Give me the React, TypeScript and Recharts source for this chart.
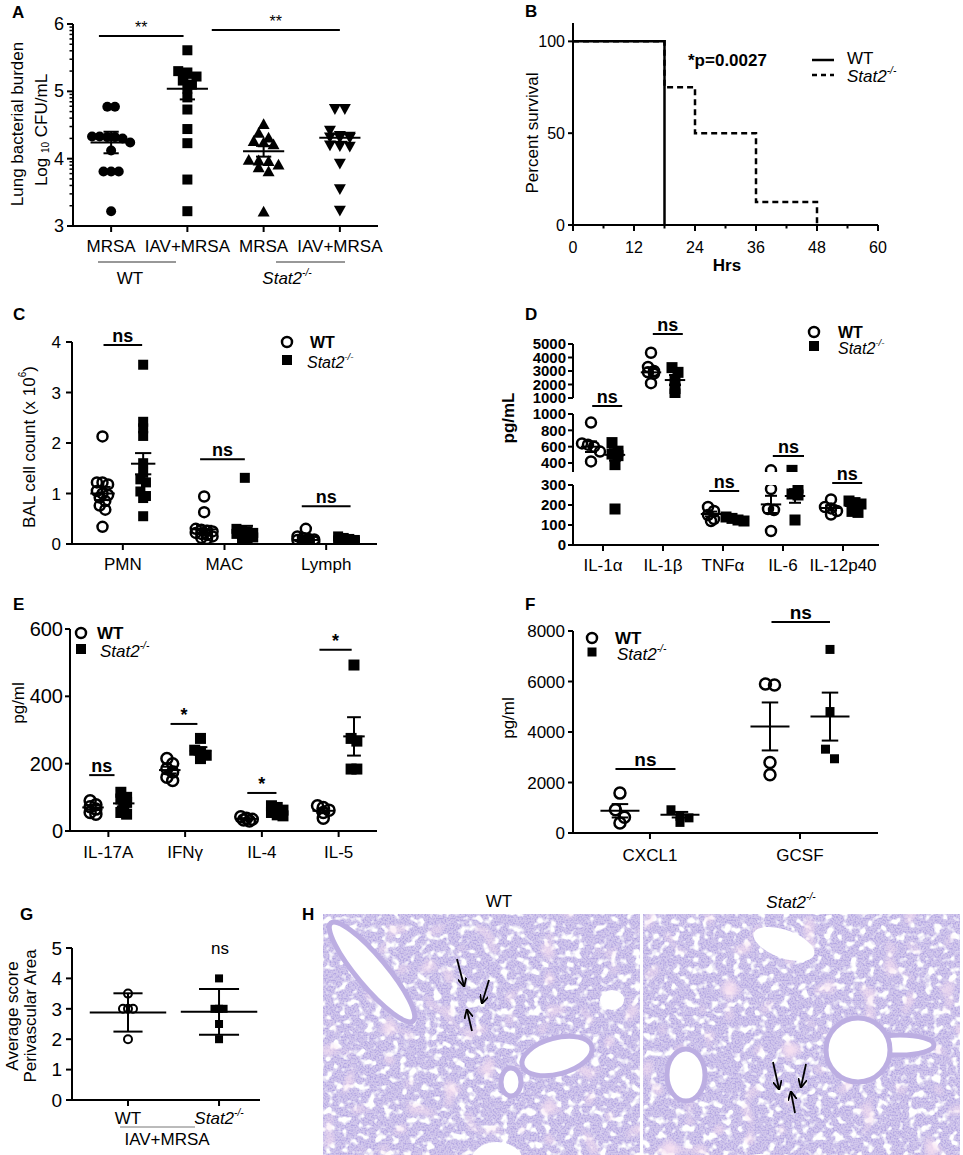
import React from "react";
import { ComposedChart, Scatter, Line, XAxis, YAxis, ReferenceLine, Legend } from "recharts";

const FONT = "Arial, 'Liberation Sans', Helvetica, sans-serif";

// ---- A: lung bacterial burden (log10 CFU/mL)
const aLabels = ["MRSA", "IAV+MRSA", "MRSA", "IAV+MRSA"];
const aWtMrsa = [4.77, 4.77, 4.33, 4.33, 4.32, 4.32, 4.3, 4.24, 4.12, 3.81, 3.81, 3.81, 3.22];
const aWtIav = [5.61, 5.3, 5.28, 5.22, 5.16, 5.1, 5.04, 4.91, 4.73, 4.44, 4.23, 3.69, 3.22];
const aKoMrsa = [4.52, 4.39, 4.32, 4.27, 4.25, 4.22, 3.99, 3.98, 3.97, 3.92, 3.88, 3.82, 3.22];
const aKoIav = [4.73, 4.73, 4.41, 4.33, 4.32, 4.31, 4.3, 4.3, 4.19, 4.18, 4.17, 3.92, 3.54, 3.22];
const aMean = [4.24, 5.04, 4.11, 4.31];
const aSem = [0.16, 0.16, 0.08, 0.06];

// ---- B: survival
const bWtHours = [0, 18];
const bWtSurvival = [100, 0];
const bKoHours = [0, 18, 24, 36, 48];
const bKoSurvival = [100, 75, 50, 12.5, 0];
const bHourTicks = [0, 6, 12, 18, 24, 30, 36, 42, 48, 54, 60];

// ---- C: BAL cell counts (x 10^6)
const cLabels = ["PMN", "MAC", "Lymph"];
const cWtPmn = [2.13, 1.22, 1.22, 1.18, 1.05, 1.0, 0.97, 0.92, 0.85, 0.76, 0.68, 0.34];
const cKoPmn = [3.55, 2.42, 2.29, 2.14, 1.6, 1.41, 1.28, 1.22, 1.04, 0.95, 0.91, 0.55];
const cWtMac = [0.94, 0.63, 0.3, 0.28, 0.26, 0.25, 0.22, 0.2, 0.18, 0.15, 0.12, 0.1];
const cKoMac = [1.31, 0.3, 0.27, 0.25, 0.22, 0.2, 0.18, 0.15, 0.13, 0.1, 0.08];
const cWtLymph = [0.3, 0.15, 0.12, 0.1, 0.09, 0.08, 0.07, 0.06, 0.05, 0.05, 0.04];
const cKoLymph = [0.15, 0.12, 0.1, 0.08, 0.07, 0.06, 0.05, 0.05, 0.04, 0.03];
const cWtMean = [1.0, 0.29, 0.08];
const cWtSem = [0.13, 0.07, 0.02];
const cKoMean = [1.59, 0.25, 0.07];
const cKoSem = [0.21, 0.11, 0.02];

// ---- D: cytokines (pg/mL), broken axis
const dLabels = ["IL-1α", "IL-1β", "TNFα", "IL-6", "IL-12p40"];
const dWtIl1a = [895, 640, 625, 600, 540, 420];
const dKoIl1a = [650, 545, 510, 490, 380, 180];
const dWtIl1b = [4350, 3300, 3000, 2900, 2800, 2100];
const dKoIl1b = [3250, 2900, 2350, 1700, 1300];
const dWtTnf = [190, 170, 150, 130, 120];
const dKoTnf = [140, 133, 125, 120];
const dWtIl6 = [310, 280, 180, 175, 70];
const dKoIl6 = [310, 285, 255, 250, 125];
const dWtIl12 = [228, 190, 183, 170, 152];
const dKoIl12 = [220, 212, 205, 168, 163];
const dWtMean = [600, 2900, 155, 203, 185];
const dWtSem = [65, 330, 12, 43, 13];
const dKoMean = [500, 2330, 130, 245, 195];
const dKoSem = [70, 370, 5, 34, 11];

// ---- E: cytokines (pg/ml)
const eLabels = ["IL-17A", "IFNγ", "IL-4", "IL-5"];
const eWtIl17 = [90, 78, 72, 65, 55, 50];
const eKoIl17 = [115, 100, 95, 85, 75, 55, 50];
const eWtIfng = [215, 200, 185, 175, 160, 150];
const eKoIfng = [275, 240, 235, 225, 215];
const eWtIl4 = [42, 38, 35, 33, 30];
const eKoIl4 = [75, 70, 62, 55, 48, 45];
const eWtIl5 = [75, 70, 62, 55, 38];
const eKoIl5 = [493, 275, 267, 184, 184];
const eWtMean = [70, 181, 36, 60];
const eWtSem = [7, 10, 2, 6];
const eKoMean = [82, 238, 59, 281];
const eKoSem = [9, 11, 5, 57];

// ---- F: chemokines (pg/ml)
const fLabels = ["CXCL1", "GCSF"];
const fWtCxcl1 = [1580, 920, 620, 400];
const fKoCxcl1 = [920, 660, 600, 420];
const fWtGcsf = [5900, 5860, 2790, 2310];
const fKoGcsf = [7270, 4810, 3320, 2940];
const fWtMean = [880, 4220];
const fWtSem = [265, 950];
const fKoMean = [725, 4610];
const fKoSem = [110, 950];

// ---- G: perivascular score
const gWt = [3.5, 3.0, 3.0, 3.0, 2.0];
const gKo = [4.0, 3.0, 3.0, 3.0, 2.5, 2.0];
const gMean = [2.88, 2.9];
const gSd = [0.63, 0.75];

// ---------- helpers
type Box = { x: number; y: number; w: number; h: number };
type Pt = { x: number; y: number };

function place(box: Box, plot: Box, yw: number, xh: number) {
  return {
    width: box.w,
    height: box.h,
    margin: {
      left: plot.x - box.x - yw,
      top: plot.y - box.y,
      right: box.x + box.w - plot.x - plot.w,
      bottom: box.y + box.h - plot.y - plot.h - xh,
    },
  };
}

const abs = (b: Box): React.CSSProperties => ({ position: "absolute", left: b.x, top: b.y, width: b.w, height: b.h });

// points of similar value are laid side by side (at most maxRow in a row), like a column scatter
function swarm(values: number[], center: number, step: number, tol: number, maxRow = 6): Pt[] {
  const sorted = [...values].sort((a, b) => b - a);
  const out: Pt[] = [];
  let i = 0;
  while (i < sorted.length) {
    let j = i;
    while (j + 1 < sorted.length && j - i + 1 < maxRow && sorted[i] - sorted[j + 1] < tol) j++;
    const n = j - i + 1;
    for (let k = 0; k < n; k++) out.push({ x: center + (k - (n - 1) / 2) * step, y: sorted[i + k] });
    i = j + 1;
  }
  return out;
}

const ring = (r: number, sw = 2.5) => (p: any) => (
  <circle cx={p.cx} cy={p.cy} r={r} fill="none" stroke="#000" strokeWidth={sw} />
);
const disc = (r: number) => (p: any) => <circle cx={p.cx} cy={p.cy} r={r} fill="#000" />;
const square = (s: number) => (p: any) => (
  <rect x={p.cx - s / 2} y={p.cy - s / 2} width={s} height={s} fill="#000" />
);
const triangle = (s: number, down: boolean) => (p: any) => {
  const h = s * 0.9;
  const d = down ? -1 : 1;
  return (
    <polygon
      points={`${p.cx - s / 2},${p.cy + (d * h) / 2} ${p.cx + s / 2},${p.cy + (d * h) / 2} ${p.cx},${p.cy - (d * h) / 2}`}
      fill="#000"
    />
  );
};

function seg(key: string, x1: number, y1: number, x2: number, y2: number, sw = 2, label?: any) {
  return (
    <ReferenceLine
      key={key}
      segment={[{ x: x1, y: y1 }, { x: x2, y: y2 }]}
      stroke="#000"
      strokeWidth={sw}
      ifOverflow="visible"
      label={label}
    />
  );
}

function meanBar(key: string, cx: number, mean: number, err: number, half: number, cap: number, sw = 2) {
  return [
    seg(key + "m", cx - half, mean, cx + half, mean, sw),
    seg(key + "v", cx, mean - err, cx, mean + err, sw),
    seg(key + "l", cx - cap, mean - err, cx + cap, mean - err, sw),
    seg(key + "u", cx - cap, mean + err, cx + cap, mean + err, sw),
  ];
}

function sigBar(key: string, x1: number, x2: number, y: number, text: string, fs = 18, bold = true) {
  return seg(key, x1, y, x2, y, 2, {
    value: text,
    position: "top",
    offset: 3,
    fill: "#000",
    fontSize: fs,
    fontWeight: bold ? "bold" : "normal",
    fontFamily: FONT,
  });
}

const axisLine = { stroke: "#000", strokeWidth: 2 };
const tickLine = { stroke: "#000", strokeWidth: 2 };
const tickFont = (fs: number, bold = false) => ({ fill: "#000", fontSize: fs, fontFamily: FONT, fontWeight: bold ? "bold" : "normal" });

function Ko({ fs }: { fs: number }) {
  return (
    <>
      <tspan fontStyle="italic">Stat2</tspan>
      <tspan fontStyle="italic" fontSize={fs * 0.6} dy={-fs * 0.38}>
        -/-
      </tspan>
    </>
  );
}

// legend: open circle = WT, filled square = Stat2-/-
const markerLegend = (dx: number, dy: number, fs: number, r: number, s: number, koDx: number) => () => (
  <svg width={120} height={dy + 20} style={{ display: "block", overflow: "visible" }}>
    <circle cx={8} cy={8} r={r} fill="none" stroke="#000" strokeWidth={2.5} />
    <text x={8 + dx} y={8} dominantBaseline="central" fontSize={fs} fontWeight="bold" fontFamily={FONT}>
      WT
    </text>
    <rect x={8 - s / 2} y={8 + dy - s / 2} width={s} height={s} fill="#000" />
    <text x={8 + koDx} y={8 + dy + 2} dominantBaseline="central" fontSize={fs} fontFamily={FONT}>
      <Ko fs={fs} />
    </text>
  </svg>
);

// ---------- A
const aMinor = [3, 4, 5].flatMap((d) => [2, 3, 4, 5, 6, 7, 8, 9].map((k) => d + Math.log10(k)));
const aTicks = [3, 4, 5, 6, ...aMinor].sort((a, b) => a - b);

function PanelA() {
  const box = { x: 40, y: 5, w: 350, h: 265 };
  const plot = { x: 73, y: 24, w: 305, h: 202 };
  const f = place(box, plot, 30, 34);
  const axisX = plot.x - box.x;
  const groups = [
    { pts: swarm(aWtMrsa, 1, 0.1, 0.1), shape: disc(5) },
    { pts: swarm(aWtIav, 2, 0.12, 0.1), shape: square(10) },
    { pts: swarm(aKoMrsa, 3, 0.13, 0.1), shape: triangle(12, false) },
    { pts: swarm(aKoIav, 4, 0.13, 0.1), shape: triangle(12, true) },
  ];
  const yTick = (p: any) => {
    const v = p.payload.value;
    const major = Math.abs(v - Math.round(v)) < 1e-6;
    return (
      <g>
        <line x1={axisX - (major ? 6 : 3.5)} x2={axisX} y1={p.y} y2={p.y} stroke="#000" strokeWidth={major ? 2 : 1.5} />
        {major && (
          <text x={axisX - 9} y={p.y} textAnchor="end" dominantBaseline="central" fontSize={18} fontFamily={FONT}>
            {Math.round(v)}
          </text>
        )}
      </g>
    );
  };
  return (
    <div style={abs(box)}>
      <ComposedChart width={f.width} height={f.height} margin={f.margin}>
        <XAxis
          type="number"
          dataKey="x"
          height={34}
          domain={[0.5, 4.5]}
          ticks={[1, 2, 3, 4]}
          interval={0}
          allowDataOverflow
          tickFormatter={(v: number) => aLabels[v - 1]}
          axisLine={axisLine}
          tickLine={tickLine}
          tickSize={6}
          tickMargin={8}
          tick={tickFont(17)}
        />
        <YAxis
          type="number"
          dataKey="y"
          width={30}
          domain={[3, 6]}
          ticks={aTicks}
          interval={0}
          allowDataOverflow
          axisLine={axisLine}
          tickLine={false}
          tick={yTick}
        />
        {groups.map((g, i) => (
          <Scatter key={i} data={g.pts} shape={g.shape} isAnimationActive={false} />
        ))}
        {aMean.map((m, i) => meanBar(`a${i}`, i + 1, m, aSem[i], 0.27, 0.1))}
        {sigBar("as1", 0.84, 1.95, 5.82, "**", 16, false)}
        {sigBar("as2", 2.32, 4.0, 5.91, "**", 16, false)}
      </ComposedChart>
    </div>
  );
}

// ---------- B
function PanelB() {
  const box = { x: 520, y: 5, w: 370, h: 265 };
  const plot = { x: 573, y: 23, w: 305, h: 202 };
  const f = place(box, plot, 45, 34);
  const bottom = plot.y + plot.h - box.y;
  const wt = bWtHours.map((t, i) => ({ t, s: bWtSurvival[i] }));
  const ko = bKoHours.map((t, i) => ({ t, s: bKoSurvival[i] }));
  const xTick = (p: any) => {
    const v = p.payload.value;
    const major = v % 12 === 0;
    return (
      <g>
        <line x1={p.x} x2={p.x} y1={bottom} y2={bottom + (major ? 6 : 3.5)} stroke="#000" strokeWidth={2} />
        {major && (
          <text x={p.x} y={bottom + 22} textAnchor="middle" dominantBaseline="central" fontSize={16} fontFamily={FONT}>
            {v}
          </text>
        )}
      </g>
    );
  };
  const legend = () => (
    <svg width={110} height={36} style={{ display: "block", overflow: "visible" }}>
      <line x1={0} x2={22} y1={8} y2={8} stroke="#000" strokeWidth={2.5} />
      <text x={35} y={6} dominantBaseline="central" fontSize={17} fontFamily={FONT}>WT</text>
      <line x1={0} x2={22} y1={23} y2={23} stroke="#000" strokeWidth={2.5} strokeDasharray="5 4" />
      <text x={35} y={24} dominantBaseline="central" fontSize={17} fontFamily={FONT}>
        <Ko fs={17} />
      </text>
    </svg>
  );
  return (
    <div style={abs(box)}>
      <ComposedChart width={f.width} height={f.height} margin={f.margin}>
        <XAxis
          type="number"
          dataKey="t"
          height={34}
          domain={[0, 60]}
          ticks={bHourTicks}
          interval={0}
          allowDataOverflow
          axisLine={axisLine}
          tickLine={false}
          tick={xTick}
        />
        <YAxis
          type="number"
          width={45}
          domain={[0, 110]}
          ticks={[0, 50, 100]}
          interval={0}
          allowDataOverflow
          axisLine={axisLine}
          tickLine={tickLine}
          tickSize={5}
          tickMargin={3}
          tick={tickFont(16)}
        />
        <Line data={ko} dataKey="s" type="stepAfter" stroke="#000" strokeWidth={2.5} strokeDasharray="6 4" dot={false} isAnimationActive={false} />
        <Line data={wt} dataKey="s" type="stepAfter" stroke="#000" strokeWidth={2.5} dot={false} isAnimationActive={false} />
        <Legend
          layout="vertical"
          align="center"
          verticalAlign="middle"
          content={legend}
          wrapperStyle={{ left: 812 - box.x, top: 52 - box.y, width: 120 }}
        />
      </ComposedChart>
    </div>
  );
}

// ---------- C
function PanelC() {
  const box = { x: 35, y: 300, w: 355, h: 285 };
  const plot = { x: 72, y: 342, w: 305, h: 202 };
  const f = place(box, plot, 32, 34);
  const wt = [cWtPmn, cWtMac, cWtLymph];
  const ko = [cKoPmn, cKoMac, cKoLymph];
  return (
    <div style={abs(box)}>
      <ComposedChart width={f.width} height={f.height} margin={f.margin}>
        <XAxis
          type="number"
          dataKey="x"
          height={34}
          domain={[0.5, 3.5]}
          ticks={[1, 2, 3]}
          interval={0}
          allowDataOverflow
          tickFormatter={(v: number) => cLabels[v - 1]}
          axisLine={axisLine}
          tickLine={tickLine}
          tickSize={6}
          tickMargin={8}
          tick={tickFont(17)}
        />
        <YAxis
          type="number"
          dataKey="y"
          width={32}
          domain={[0, 4]}
          ticks={[0, 1, 2, 3, 4]}
          interval={0}
          allowDataOverflow
          axisLine={axisLine}
          tickLine={tickLine}
          tickSize={6}
          tickMargin={5}
          tick={tickFont(17)}
        />
        {wt.map((v, i) => (
          <Scatter key={"w" + i} data={swarm(v, i + 0.8, 0.055, 0.1, 4)} shape={ring(5)} isAnimationActive={false} />
        ))}
        {ko.map((v, i) => (
          <Scatter key={"k" + i} data={swarm(v, i + 1.2, 0.055, 0.1, 4)} shape={square(10)} isAnimationActive={false} />
        ))}
        {cWtMean.map((m, i) => meanBar(`cw${i}`, i + 0.8, m, cWtSem[i], 0.12, 0.08))}
        {cKoMean.map((m, i) => meanBar(`ck${i}`, i + 1.2, m, cKoSem[i], 0.12, 0.08))}
        {sigBar("cs1", 0.81, 1.19, 3.94, "ns")}
        {sigBar("cs2", 1.76, 2.2, 1.68, "ns")}
        {sigBar("cs3", 2.76, 3.24, 0.75, "ns")}
        <Legend
          layout="vertical"
          align="center"
          verticalAlign="middle"
          content={markerLegend(23, 18, 16, 5, 10, 20)}
          wrapperStyle={{ left: 287 - 8 - box.x, top: 342 - 8 - box.y, width: 120 }}
        />
      </ComposedChart>
    </div>
  );
}

// ---------- D (three stacked segments of a broken y axis)
function PanelD() {
  const box = { x: 520, y: 300, w: 370, h: 285 };
  const segs = [
    { domain: [1000, 5000], ticks: [1000, 2000, 3000, 4000, 5000], y: 344, h: 54 },
    { domain: [290, 1000], ticks: [400, 600, 800, 1000], y: 414, h: 58 },
    { domain: [0, 300], ticks: [0, 100, 200, 300], y: 485, h: 60 },
  ];
  const wt = [dWtIl1a, dWtIl1b, dWtTnf, dWtIl6, dWtIl12];
  const ko = [dKoIl1a, dKoIl1b, dKoTnf, dKoIl6, dKoIl12];
  const tol = [120, 400, 30, 30, 30];
  const wtPts = wt.flatMap((v, i) => swarm(v, i + 0.8, 0.1, tol[i], 4));
  const koPts = ko.flatMap((v, i) => swarm(v, i + 1.2, 0.1, tol[i], 4));
  const inSeg = (y: number, d: number[]) => y >= d[0] && y <= d[1];
  const sigs = [
    { seg: 1, x1: 0.82, x2: 1.32, y: 1098 },
    { seg: 0, x1: 1.83, x2: 2.33, y: 5740 },
    { seg: 2, x1: 2.77, x2: 3.27, y: 270 },
    { seg: 2, x1: 3.83, x2: 4.35, y: 445 },
    { seg: 2, x1: 4.82, x2: 5.32, y: 310 },
  ];
  return (
    <div style={abs(box)}>
      {segs.map((s, si) => {
        const last = si === segs.length - 1;
        const plot = { x: 573, y: s.y, w: 306, h: s.h };
        const f = place(box, plot, 50, last ? 34 : 0);
        return (
          <div key={si} style={{ position: "absolute", left: 0, top: 0 }}>
            <ComposedChart width={f.width} height={f.height} margin={f.margin}>
              <XAxis
                type="number"
                dataKey="x"
                hide={!last}
                height={34}
                domain={[0.5, 5.6]}
                ticks={[1, 2, 3, 4, 5]}
                interval={0}
                allowDataOverflow
                tickFormatter={(v: number) => dLabels[v - 1]}
                axisLine={axisLine}
                tickLine={tickLine}
                tickSize={6}
                tickMargin={8}
                tick={tickFont(17)}
              />
              <YAxis
                type="number"
                dataKey="y"
                width={50}
                domain={s.domain}
                ticks={s.ticks}
                interval={0}
                allowDataOverflow
                axisLine={axisLine}
                tickLine={tickLine}
                tickSize={5}
                tickMargin={2}
                tick={tickFont(15, true)}
              />
              <Scatter data={wtPts.filter((p) => inSeg(p.y, s.domain))} shape={ring(5)} isAnimationActive={false} />
              <Scatter data={koPts.filter((p) => inSeg(p.y, s.domain))} shape={square(11)} isAnimationActive={false} />
              {dWtMean.map((m, i) => (inSeg(m, s.domain) ? meanBar(`dw${i}`, i + 0.8, m, dWtSem[i], 0.17, 0.1) : null))}
              {dKoMean.map((m, i) => (inSeg(m, s.domain) ? meanBar(`dk${i}`, i + 1.2, m, dKoSem[i], 0.17, 0.1) : null))}
              {sigs.map((g, i) => (g.seg === si ? sigBar(`ds${i}`, g.x1, g.x2, g.y, "ns") : null))}
              {si === 0 && (
                <Legend
                  layout="vertical"
                  align="center"
                  verticalAlign="middle"
                  content={markerLegend(24, 14, 16, 5, 10, 24)}
                  wrapperStyle={{ left: 814 - 8 - box.x, top: 332 - 8 - box.y, width: 120 }}
                />
              )}
            </ComposedChart>
          </div>
        );
      })}
    </div>
  );
}

// ---------- E
function PanelE() {
  const box = { x: 20, y: 595, w: 370, h: 285 };
  const plot = { x: 70, y: 629, w: 307, h: 202 };
  const f = place(box, plot, 45, 34);
  const wt = [eWtIl17, eWtIfng, eWtIl4, eWtIl5];
  const ko = [eKoIl17, eKoIfng, eKoIl4, eKoIl5];
  return (
    <div style={abs(box)}>
      <ComposedChart width={f.width} height={f.height} margin={f.margin}>
        <XAxis
          type="number"
          dataKey="x"
          height={34}
          domain={[0.5, 4.5]}
          ticks={[1, 2, 3, 4]}
          interval={0}
          allowDataOverflow
          tickFormatter={(v: number) => eLabels[v - 1]}
          axisLine={axisLine}
          tickLine={tickLine}
          tickSize={6}
          tickMargin={9}
          tick={tickFont(17)}
        />
        <YAxis
          type="number"
          dataKey="y"
          width={45}
          domain={[0, 600]}
          ticks={[0, 200, 400, 600]}
          interval={0}
          allowDataOverflow
          axisLine={axisLine}
          tickLine={tickLine}
          tickSize={5}
          tickMargin={2}
          tick={tickFont(20)}
        />
        {wt.map((v, i) => (
          <Scatter key={"w" + i} data={swarm(v, i + 0.8, 0.075, 16, 3)} shape={ring(5.5)} isAnimationActive={false} />
        ))}
        {ko.map((v, i) => (
          <Scatter key={"k" + i} data={swarm(v, i + 1.2, 0.075, 16, 3)} shape={square(11)} isAnimationActive={false} />
        ))}
        {eWtMean.map((m, i) => meanBar(`ew${i}`, i + 0.8, m, eWtSem[i], 0.14, 0.09))}
        {eKoMean.map((m, i) => meanBar(`ek${i}`, i + 1.2, m, eKoSem[i], 0.14, 0.09))}
        {sigBar("es1", 0.75, 1.08, 166, "ns")}
        {sigBar("es2", 1.81, 2.16, 318, "*")}
        {sigBar("es3", 2.81, 3.19, 113, "*")}
        {sigBar("es4", 3.75, 4.17, 538, "*")}
        <Legend
          layout="vertical"
          align="center"
          verticalAlign="middle"
          content={markerLegend(16, 16, 17, 5, 10, 19)}
          wrapperStyle={{ left: 81 - 8 - box.x, top: 633 - 8 - box.y, width: 120 }}
        />
      </ComposedChart>
    </div>
  );
}

// ---------- F
function PanelF() {
  const box = { x: 515, y: 595, w: 375, h: 285 };
  const plot = { x: 573, y: 631, w: 305, h: 202 };
  const f = place(box, plot, 53, 34);
  const wt = [fWtCxcl1, fWtGcsf];
  const ko = [fKoCxcl1, fKoGcsf];
  return (
    <div style={abs(box)}>
      <ComposedChart width={f.width} height={f.height} margin={f.margin}>
        <XAxis
          type="number"
          dataKey="x"
          height={34}
          domain={[0.487, 2.52]}
          ticks={[1, 2]}
          interval={0}
          allowDataOverflow
          tickFormatter={(v: number) => fLabels[v - 1]}
          axisLine={axisLine}
          tickLine={tickLine}
          tickSize={6}
          tickMargin={10}
          tick={tickFont(17)}
        />
        <YAxis
          type="number"
          dataKey="y"
          width={53}
          domain={[0, 8000]}
          ticks={[0, 2000, 4000, 6000, 8000]}
          interval={0}
          allowDataOverflow
          axisLine={axisLine}
          tickLine={tickLine}
          tickSize={5}
          tickMargin={3}
          tick={tickFont(17)}
        />
        {wt.map((v, i) => (
          <Scatter key={"w" + i} data={swarm(v, i + 0.8, 0.06, 400)} shape={ring(5.5)} isAnimationActive={false} />
        ))}
        {ko.map((v, i) => (
          <Scatter key={"k" + i} data={swarm(v, i + 1.2, 0.06, 400)} shape={square(9)} isAnimationActive={false} />
        ))}
        {fWtMean.map((m, i) => meanBar(`fw${i}`, i + 0.8, m, fWtSem[i], 0.13, 0.055))}
        {fKoMean.map((m, i) => meanBar(`fk${i}`, i + 1.2, m, fKoSem[i], 0.13, 0.055))}
        {sigBar("fs1", 0.77, 1.17, 2535, "ns", 19)}
        {sigBar("fs2", 1.81, 2.2, 8356, "ns", 19)}
        <Legend
          layout="vertical"
          align="center"
          verticalAlign="middle"
          content={markerLegend(23, 14, 17, 5, 9, 25)}
          wrapperStyle={{ left: 592 - 8 - box.x, top: 638 - 8 - box.y, width: 120 }}
        />
      </ComposedChart>
    </div>
  );
}

// ---------- G
function PanelG() {
  const box = { x: 35, y: 925, w: 235, h: 215 };
  const plot = { x: 72, y: 948, w: 188, h: 152 };
  const f = place(box, plot, 32, 34);
  const bottom = plot.y + plot.h - box.y;
  const xTick = (p: any) => (
    <text x={p.x} y={bottom + 18} textAnchor="middle" dominantBaseline="central" fontSize={17} fontFamily={FONT}>
      {p.payload.value === 1 ? "WT" : <Ko fs={17} />}
    </text>
  );
  return (
    <div style={abs(box)}>
      <ComposedChart width={f.width} height={f.height} margin={f.margin}>
        <XAxis
          type="number"
          dataKey="x"
          height={34}
          domain={[0.385, 2.45]}
          ticks={[1, 2]}
          interval={0}
          allowDataOverflow
          axisLine={axisLine}
          tickLine={tickLine}
          tickSize={6}
          tick={xTick}
        />
        <YAxis
          type="number"
          dataKey="y"
          width={32}
          domain={[0, 5]}
          ticks={[0, 1, 2, 3, 4, 5]}
          interval={0}
          allowDataOverflow
          axisLine={axisLine}
          tickLine={tickLine}
          tickSize={6}
          tickMargin={4}
          tick={tickFont(19)}
        />
        <Scatter data={swarm(gWt, 1, 0.055, 0.2)} shape={ring(4, 2)} isAnimationActive={false} />
        <Scatter data={swarm(gKo, 2, 0.05, 0.2)} shape={square(8)} isAnimationActive={false} />
        {meanBar("gw", 1, gMean[0], gSd[0], 0.42, 0.16)}
        {meanBar("gk", 2, gMean[1], gSd[1], 0.42, 0.22)}
      </ComposedChart>
    </div>
  );
}

// ---------- titles, panel letters and the histology panel H
function Tissue({ id, x, y, w, h, children }: { id: string; x: number; y: number; w: number; h: number; children?: React.ReactNode }) {
  return (
    <g>
      <clipPath id={id}>
        <rect x={x} y={y} width={w} height={h} />
      </clipPath>
      <g clipPath={`url(#${id})`}>
        <rect x={x} y={y} width={w} height={h} fill="#d2c8ec" />
        <rect x={x} y={y} width={w} height={h} filter="url(#cells)" />
        <rect x={x} y={y} width={w} height={h} filter="url(#alv)" />
        <rect x={x} y={y} width={w} height={h} filter="url(#pink)" />
        {children}
      </g>
    </g>
  );
}

const wall = { fill: "#fff", stroke: "#bcaee2", strokeWidth: 5 };

function Overlay() {
  const t = { fontFamily: FONT, fill: "#000" } as const;
  const rot = (x: number, y: number) => `rotate(-90 ${x} ${y})`;
  const letter = (s: string, x: number, y: number) => (
    <text key={s} x={x} y={y} fontSize={17} fontWeight="bold" {...t}>
      {s}
    </text>
  );
  return (
    <svg width={963} height={1155} style={{ position: "absolute", left: 0, top: 0 }}>
      <defs>
        <filter id="cells" x="0" y="0" width="100%" height="100%">
          <feTurbulence type="fractalNoise" baseFrequency="0.6" numOctaves={1} seed={7} />
          <feColorMatrix type="matrix" values="0 0 0 0 0.45  0 0 0 0 0.38  0 0 0 0 0.76  -3.4 0 0 0 1.95" />
        </filter>
        <filter id="alv" x="0" y="0" width="100%" height="100%">
          <feTurbulence type="fractalNoise" baseFrequency="0.12" numOctaves={2} seed={11} />
          <feColorMatrix type="matrix" values="0 0 0 0 1  0 0 0 0 1  0 0 0 0 1  6 0 0 0 -3.2" />
        </filter>
        <filter id="pink" x="0" y="0" width="100%" height="100%">
          <feTurbulence type="fractalNoise" baseFrequency="0.05" numOctaves={1} seed={3} />
          <feColorMatrix type="matrix" values="0 0 0 0 0.93  0 0 0 0 0.75  0 0 0 0 0.88  4 0 0 0 -2.4" />
        </filter>
        <marker id="arr" viewBox="0 0 10 10" refX="9" refY="5" markerWidth="5" markerHeight="5" orient="auto">
          <path d="M0,0 L10,5 L0,10" fill="none" stroke="#000" strokeWidth={2} />
        </marker>
      </defs>

      {letter("A", 12, 18)}
      {letter("B", 525, 17)}
      {letter("C", 13, 320)}
      {letter("D", 525, 320)}
      {letter("E", 13, 610)}
      {letter("F", 525, 610)}
      {letter("G", 20, 920)}
      {letter("H", 302, 920)}

      {/* A */}
      <text x={17} y={124} transform={rot(17, 124)} textAnchor="middle" dominantBaseline="central" fontSize={17} {...t}>
        Lung bacterial burden
      </text>
      <text x={41} y={130} transform={rot(41, 130)} textAnchor="middle" dominantBaseline="central" fontSize={17} {...t}>
        Log <tspan fontSize={10} dy={4}>10</tspan>
        <tspan dy={-4}> CFU/mL</tspan>
      </text>
      <line x1={98} x2={176} y1={262} y2={262} stroke="#333" strokeWidth={1.2} />
      <line x1={276} x2={345} y1={262} y2={262} stroke="#333" strokeWidth={1.2} />
      <text x={130} y={278} textAnchor="middle" dominantBaseline="central" fontSize={17} {...t}>
        WT
      </text>
      <text x={287} y={278} textAnchor="middle" dominantBaseline="central" fontSize={17} {...t}>
        <Ko fs={17} />
      </text>

      {/* B */}
      <text x={532} y={133} transform={rot(532, 133)} textAnchor="middle" dominantBaseline="central" fontSize={17} {...t}>
        Percent survival
      </text>
      <text x={727} y={265} textAnchor="middle" dominantBaseline="central" fontSize={17} fontWeight="bold" {...t}>
        Hrs
      </text>
      <text x={688} y={60} dominantBaseline="central" fontSize={17} fontWeight="bold" {...t}>
        *p=0.0027
      </text>

      {/* C, D, E, F */}
      <text x={29} y={447} transform={rot(29, 447)} textAnchor="middle" dominantBaseline="central" fontSize={17} {...t}>
        BAL cell count (x 10<tspan fontSize={10} dy={-7}>6</tspan>
        <tspan dy={7}>)</tspan>
      </text>
      <text x={508} y={418} transform={rot(508, 418)} textAnchor="middle" dominantBaseline="central" fontSize={17} fontWeight="bold" {...t}>
        pg/mL
      </text>
      <text x={18} y={703} transform={rot(18, 703)} textAnchor="middle" dominantBaseline="central" fontSize={17} {...t}>
        pg/ml
      </text>
      <text x={508} y={718} transform={rot(508, 718)} textAnchor="middle" dominantBaseline="central" fontSize={17} {...t}>
        pg/ml
      </text>

      {/* G */}
      <text x={12} y={1016} transform={rot(12, 1016)} textAnchor="middle" dominantBaseline="central" fontSize={17} {...t}>
        Average score
      </text>
      <text x={30} y={1016} transform={rot(30, 1016)} textAnchor="middle" dominantBaseline="central" fontSize={17} {...t}>
        Perivascular Area
      </text>
      <text x={220} y={948} textAnchor="middle" dominantBaseline="central" fontSize={17} {...t}>
        ns
      </text>
      <line x1={120} x2={195} y1={1127} y2={1127} stroke="#777" strokeWidth={1} />
      <text x={167} y={1139} textAnchor="middle" dominantBaseline="central" fontSize={17} {...t}>
        IAV+MRSA
      </text>

      {/* H */}
      <text x={499} y={901} textAnchor="middle" dominantBaseline="central" fontSize={17} {...t}>
        WT
      </text>
      <text x={791} y={902} textAnchor="middle" dominantBaseline="central" fontSize={17} {...t}>
        <Ko fs={17} />
      </text>
      <Tissue id="hwt" x={323} y={914} w={317} h={241}>
        <ellipse cx={372} cy={972} rx={64} ry={15} transform="rotate(50 372 972)" {...wall} />
        <ellipse cx={557} cy={1056} rx={36} ry={18} transform="rotate(-15 557 1056)" {...wall} />
        <ellipse cx={511} cy={1082} rx={10} ry={14} {...wall} />
        <ellipse cx={497} cy={1162} rx={26} ry={20} fill="#fff" />
        <ellipse cx={612} cy={1000} rx={12} ry={10} fill="#fff" />
      </Tissue>
      <Tissue id="hko" x={643} y={914} w={317} h={241}>
        <ellipse cx={784} cy={944} rx={32} ry={14} transform="rotate(20 784 944)" fill="#fff" />
        <ellipse cx={900} cy={1045} rx={34} ry={10} {...wall} />
        <ellipse cx={858} cy={1050} rx={32} ry={32} {...wall} />
        <ellipse cx={686} cy={1075} rx={19} ry={26} {...wall} />
        <ellipse cx={760} cy={1172} rx={24} ry={18} fill="#fff" />
      </Tissue>
      {[
        [457, 959, 464, 986],
        [489, 980, 482, 1003],
        [472, 1031, 467, 1010],
        [773, 1062, 779, 1089],
        [806, 1064, 801, 1087],
        [795, 1113, 791, 1092],
      ].map((a, i) => (
        <line key={i} x1={a[0]} y1={a[1]} x2={a[2]} y2={a[3]} stroke="#000" strokeWidth={1.8} markerEnd="url(#arr)" />
      ))}
    </svg>
  );
}

export default function App() {
  return (
    <div style={{ position: "absolute", left: 0, top: 0, width: 963, height: 1155, background: "#fff", overflow: "hidden", fontFamily: FONT }}>
      <Overlay />
      <PanelA />
      <PanelB />
      <PanelC />
      <PanelD />
      <PanelE />
      <PanelF />
      <PanelG />
    </div>
  );
}
